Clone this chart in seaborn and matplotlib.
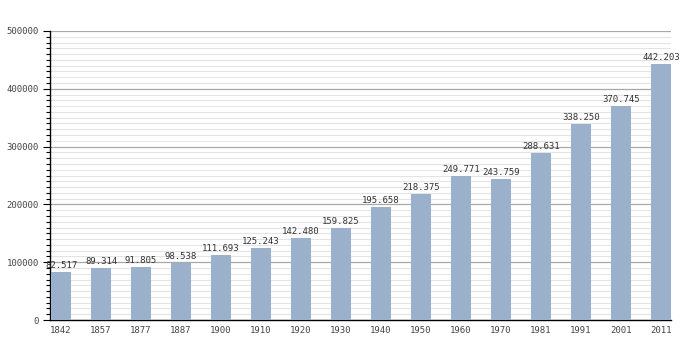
import matplotlib
matplotlib.use("Agg")
import matplotlib.pyplot as plt
from matplotlib.ticker import MultipleLocator
import seaborn as sns
import pandas as pd

years = ["1842", "1857", "1877", "1887", "1900", "1910", "1920", "1930",
         "1940", "1950", "1960", "1970", "1981", "1991", "2001", "2011"]
population = [82517, 89314, 91805, 98538, 111693, 125243, 142480, 159825,
              195658, 218375, 249771, 243759, 288631, 338250, 370745, 442203]

df = pd.DataFrame({"year": years, "pop": population})

sns.set_style("white")
plt.rcParams['font.family'] = ['DejaVu Sans Mono', 'DejaVu Sans']

fig = plt.figure(figsize=(7, 3.5), dpi=100)
ax = fig.add_axes([50/700, 30/350, 621/700, 289/350])

sns.barplot(data=df, x="year", y="pop", color="#9ab0cb", saturation=1,
            width=0.5, ax=ax, zorder=3, linewidth=0, edgecolor="none")

ax.set_xlim(-0.275, 15.25)
ax.set_ylim(0, 500000)
ax.yaxis.set_major_locator(MultipleLocator(100000))
ax.yaxis.set_minor_locator(MultipleLocator(10000))
ax.grid(which="major", axis="y", color="#a8a8a8", linewidth=0.9, zorder=1)
ax.grid(which="minor", axis="y", color="#e4e4e4", linewidth=0.8, zorder=0)
ax.set_axisbelow(True)

for s in ["top", "right"]:
    ax.spines[s].set_visible(False)
ax.spines["left"].set_color("black")
ax.spines["bottom"].set_color("black")
ax.spines["left"].set_linewidth(1)
ax.spines["bottom"].set_linewidth(1)

ax.tick_params(axis="y", which="major", length=5, width=0.8, colors="black",
               labelsize=6.5, labelcolor="#444444", left=True, pad=3)
ax.tick_params(axis="y", which="minor", length=3, width=0.8, colors="black", left=True)
ax.tick_params(axis="x", length=0, labelsize=6.5, labelcolor="#444444", pad=4)
ax.set_yticklabels([f"{int(v)}" for v in ax.get_yticks()])
ax.set_xlabel("")
ax.set_ylabel("")

for i, v in enumerate(population):
    ax.text(i, v + 3500, f"{v:,}".replace(",", "."), ha="center", va="bottom",
            fontsize=6.5, color="#333333", zorder=4)

fig.savefig("out.png", dpi=100)
